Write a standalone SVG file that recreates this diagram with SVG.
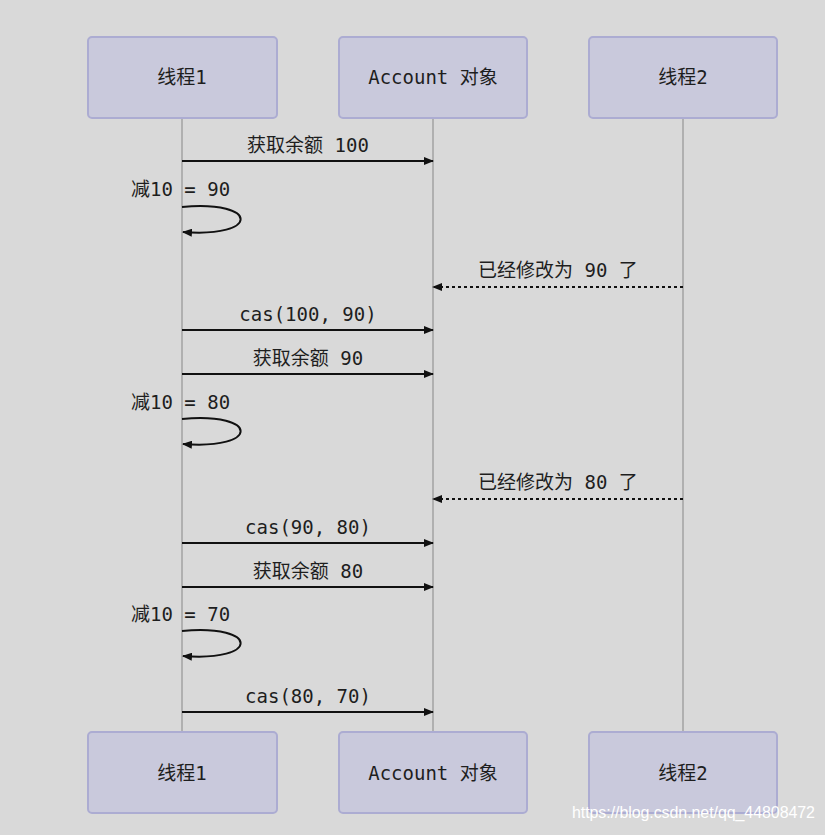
<svg xmlns="http://www.w3.org/2000/svg" width="825" height="835" viewBox="0 0 825 835">
<defs>
<style>
.box{fill:#c9c9dc;stroke:#acacd2;stroke-width:2}
.t{font-family:"DejaVu Sans Mono","Noto Sans CJK SC",monospace;font-size:19px;fill:#1e1e1e;text-anchor:middle}
.tl{font-family:"DejaVu Sans Mono","Noto Sans CJK SC",monospace;font-size:19px;fill:#1e1e1e}
.life{stroke:#a2a2a2;stroke-width:1.5;fill:none}
.msg{stroke:#111;stroke-width:2;fill:none;marker-end:url(#ah)}
.dash{stroke:#111;stroke-width:2;fill:none;stroke-dasharray:3 3;marker-end:url(#ah)}
</style>
<marker id="ah" viewBox="0 0 10 8" refX="9" refY="4" markerWidth="10" markerHeight="8" markerUnits="userSpaceOnUse" orient="auto">
<path d="M0,0 L10,4 L0,8 z" fill="#111"/>
</marker>
</defs>
<rect width="825" height="835" fill="#d9d9d9"/>
<g id="lifelines">
<line class="life" x1="182" y1="118" x2="182" y2="731"/>
<line class="life" x1="433" y1="118" x2="433" y2="731"/>
<line class="life" x1="683" y1="118" x2="683" y2="731"/>
</g>
<g id="t1-top"><rect class="box" x="88" y="37" width="189" height="81" rx="4"/><text class="t" x="182" y="84">线程1</text></g>
<g id="acc-top"><rect class="box" x="339" y="37" width="188" height="81" rx="4"/><text class="t" x="433" y="84">Account 对象</text></g>
<g id="t2-top"><rect class="box" x="589" y="37" width="188" height="81" rx="4"/><text class="t" x="683" y="84">线程2</text></g>
<g id="t1-bot"><rect class="box" x="88" y="732" width="189" height="81" rx="4"/><text class="t" x="182" y="780">线程1</text></g>
<g id="acc-bot"><rect class="box" x="339" y="732" width="188" height="81" rx="4"/><text class="t" x="433" y="780">Account 对象</text></g>
<g id="t2-bot"><rect class="box" x="589" y="732" width="188" height="81" rx="4"/><text class="t" x="683" y="780">线程2</text></g>
<g id="connectors">
<line class="msg" x1="182" y1="161" x2="433" y2="161"/>
<path class="msg" d="M182,207 C260,200 260,238 183,232"/>
<line class="dash" x1="683" y1="287" x2="433" y2="287"/>
<line class="msg" x1="182" y1="330" x2="433" y2="330"/>
<line class="msg" x1="182" y1="374" x2="433" y2="374"/>
<path class="msg" d="M182,419 C260,412 260,450 183,444"/>
<line class="dash" x1="683" y1="499" x2="433" y2="499"/>
<line class="msg" x1="182" y1="543" x2="433" y2="543"/>
<line class="msg" x1="182" y1="587" x2="433" y2="587"/>
<path class="msg" d="M182,631 C260,624 260,662 183,656"/>
<line class="msg" x1="182" y1="712" x2="433" y2="712"/>
</g>
<g id="labels">
<text class="t" x="308" y="152">获取余额 100</text>
<text class="tl" x="131" y="196">减10 = 90</text>
<text class="t" x="558" y="277">已经修改为 90 了</text>
<text class="t" x="308" y="321">cas(100, 90)</text>
<text class="t" x="308" y="365">获取余额 90</text>
<text class="tl" x="131" y="409">减10 = 80</text>
<text class="t" x="558" y="489">已经修改为 80 了</text>
<text class="t" x="308" y="534">cas(90, 80)</text>
<text class="t" x="308" y="578">获取余额 80</text>
<text class="tl" x="131" y="621">减10 = 70</text>
<text class="t" x="308" y="703">cas(80, 70)</text>
</g>
<text x="572" y="818" font-family="Liberation Sans, Arial, sans-serif" font-size="16" fill="#ffffff" textLength="243">https://blog.csdn.net/qq_44808472</text>
</svg>
